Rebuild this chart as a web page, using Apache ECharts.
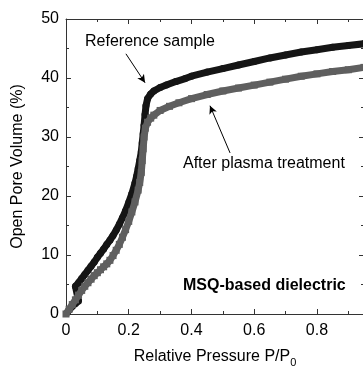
<!DOCTYPE html>
<html>
<head>
<meta charset="utf-8">
<script src="https://cdn.jsdelivr.net/npm/echarts@6/dist/echarts.min.js"></script>
<style>html,body{margin:0;padding:0;background:#fff;}#c{width:363px;height:369px;}</style>
</head>
<body>
<div id="c"></div>
<script>
// Reference sample (black circles): [P/P0, open pore volume %]
const referenceSample = [
  [0.005,0.3],[0.01,0.7],[0.02,1.3],[0.03,1.8],[0.04,2.2],
  [0.03,4.7],[0.04,5.3],[0.05,6.0],[0.06,6.7],[0.07,7.4],[0.08,8.1],[0.09,8.8],[0.10,9.6],
  [0.11,10.3],[0.12,11.0],[0.13,11.8],[0.14,12.5],[0.15,13.3],[0.16,14.2],[0.17,15.2],
  [0.18,16.3],[0.19,17.5],[0.20,18.9],[0.21,20.4],[0.22,22.2],[0.225,23.3],[0.23,24.6],
  [0.235,26.0],[0.24,27.5],[0.243,29.0],[0.246,30.5],[0.249,32.0],[0.252,33.8],[0.255,35.3],
  [0.26,36.5],[0.27,37.3],[0.28,37.8],[0.30,38.4],[0.32,38.8],[0.35,39.4],[0.38,39.9],
  [0.40,40.3],[0.45,41.0],[0.50,41.6],[0.55,42.2],[0.60,42.8],[0.65,43.4],[0.70,43.9],
  [0.75,44.4],[0.80,44.8],[0.85,45.2],[0.90,45.5],[0.95,45.8]
];
// After plasma treatment (gray squares)
const afterPlasma = [
  [0.0,0.0],[0.01,0.8],[0.02,1.6],[0.03,2.4],[0.04,3.2],[0.05,4.0],[0.06,4.7],[0.07,5.3],
  [0.08,5.9],[0.09,6.5],[0.10,7.0],[0.11,7.5],[0.12,8.0],[0.13,8.5],[0.14,9.1],[0.15,9.9],
  [0.16,10.8],[0.17,11.8],[0.18,13.0],[0.19,14.3],[0.20,15.7],[0.21,17.3],[0.22,19.0],
  [0.23,21.0],[0.235,22.3],[0.24,24.0],[0.243,26.0],[0.246,28.0],[0.249,30.0],[0.253,31.5],
  [0.26,32.5],[0.27,33.2],[0.28,33.7],[0.30,34.5],[0.33,35.2],[0.36,35.8],[0.40,36.5],
  [0.45,37.2],[0.50,37.8],[0.55,38.3],[0.60,38.8],[0.65,39.3],[0.70,39.8],[0.75,40.3],
  [0.80,40.7],[0.85,41.1],[0.90,41.4],[0.95,41.8]
];
// Annotation arrows in data units: [start, end]
const refArrow = [[0.191,44.1],[0.252,39.2]];
const plasmaArrow = [[0.523,27.3],[0.459,35.3]];
const xMin = 0, xMax = 0.95, yMin = 0, yMax = 50;

const chart = echarts.init(document.getElementById('c'), null, {renderer:'canvas'});
const FONT = 'Liberation Sans, Arial, sans-serif';
const axisCol = '#333';
function xAx(pos, interval, len, showLabel, showLine) {
  return {
    type:'value', position:pos, min:xMin, max:xMax, interval:interval,
    axisLine:{show:showLine, onZero:false, lineStyle:{color:axisCol,width:1}},
    axisTick:{show:true, inside:true, length:len, lineStyle:{color:axisCol}},
    axisLabel:{show:showLabel, color:'#000', fontFamily:FONT, fontSize:16, margin:9,
      showMaxLabel:false,
      formatter: v => (Math.abs(Math.round(v*10) % 2) === 0 && v <= 0.8001) ? (v===0?'0':v.toFixed(1)) : ''},
    splitLine:{show:false}
  };
}
function yAx(pos, showLabel, showLine) {
  return {
    type:'value', position:pos, min:yMin, max:yMax, interval:10,
    axisLine:{show:showLine, onZero:false, lineStyle:{color:axisCol,width:1}},
    axisTick:{show:true, inside:true, length:5, lineStyle:{color:axisCol}},
    minorTick:{show:true, splitNumber:2, length:3, lineStyle:{color:axisCol}},
    axisLabel:{show:showLabel, color:'#000', fontFamily:FONT, fontSize:16, margin:7},
    splitLine:{show:false}
  };
}
const xb = xAx('bottom',0.1,3,true,true);
xb.name = 'Relative Pressure P/P{sub|0}';
xb.nameLocation = 'middle';
xb.nameGap = 31;
xb.nameTextStyle = {color:'#000', fontFamily:FONT, fontSize:16,
  rich:{sub:{fontSize:11, fontFamily:FONT, color:'#000', padding:[12,0,0,0]}}};
const yl = yAx('left',true,true);
yl.name = 'Open Pore Volume (%)';
yl.nameLocation = 'middle';
yl.nameGap = 40;
yl.nameTextStyle = {color:'#000', fontFamily:FONT, fontSize:16};

chart.setOption({
  animation:false,
  backgroundColor:'#fff',
  grid:{left:66, top:19, width:298, height:295, containLabel:false, outerBoundsMode:'none'},
  xAxis:[
    xb,
    xAx('bottom',0.2,5,false,false),
    xAx('top',0.1,3,false,true),
    xAx('top',0.2,5,false,false)
  ],
  yAxis:[ yl, yAx('right',false,true) ],
  series:[
    {
      type:'line', xAxisIndex:0, yAxisIndex:0, data:referenceSample,
      symbol:'circle', symbolSize:7, showAllSymbol:true,
      itemStyle:{color:'#151515'}, lineStyle:{color:'#151515', width:7},
      markLine:{
        silent:true, symbol:['none','arrow'], symbolSize:[6,8],
        label:{show:false},
        lineStyle:{color:'#000', width:1, type:'solid'},
        data:[[{coord:refArrow[0]},{coord:refArrow[1]}]]
      },
      z:2
    },
    {
      type:'line', xAxisIndex:0, yAxisIndex:0, data:afterPlasma,
      symbol:'rect', symbolSize:7, showAllSymbol:true,
      itemStyle:{color:'#5f5f5f'}, lineStyle:{color:'#5f5f5f', width:7},
      markLine:{
        silent:true, symbol:['none','arrow'], symbolSize:[6,8],
        label:{show:false},
        lineStyle:{color:'#000', width:1, type:'solid'},
        data:[[{coord:plasmaArrow[0]},{coord:plasmaArrow[1]}]]
      },
      z:3
    }
  ],
  graphic:[
    {type:'text', left:85, top:34, style:{text:'Reference sample', font:'16px '+FONT, fill:'#000'}},
    {type:'text', left:183, top:156, style:{text:'After plasma treatment', font:'16px '+FONT, fill:'#000'}},
    {type:'text', left:183, top:278, style:{text:'MSQ-based dielectric', font:'bold 16px '+FONT, fill:'#000'}}
  ]
});
</script>
</body>
</html>
